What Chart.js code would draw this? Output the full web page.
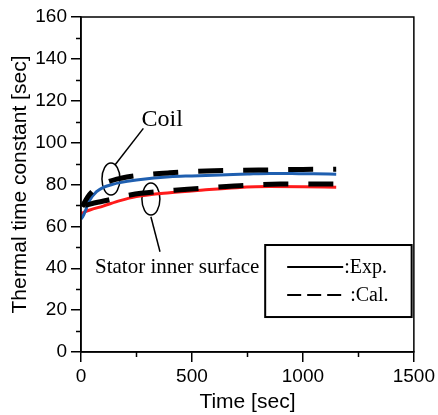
<!DOCTYPE html>
<html lang="en">
<head>
  <meta charset="UTF-8">
  <title>Thermal time constant</title>
  <script src="https://cdn.jsdelivr.net/npm/chart.js"></script>
  <style>
    html, body { margin: 0; padding: 0; background: #fff; }
    #wrap { width: 438px; height: 415px; }
  </style>
</head>
<body>
<div id="wrap"><canvas id="tauChart"></canvas></div>
<script>
  // time axis [sec] and thermal time constants [sec]
  const coilExpT = [0, 10, 20, 40, 70, 100, 140, 176, 250, 400, 500, 626, 750, 851, 950, 1050, 1150];
  const coilExp = [63.5, 65, 67.5, 72.6, 76.6, 78.6, 80, 80.9, 82.1, 83.7, 84.1, 84.5, 85, 85.3, 85.2, 85.1, 84.9];

  const statorExpT = [0, 20, 40, 100, 176, 250, 400, 551, 701, 851, 1000, 1150];
  const statorExp = [66, 67, 67.8, 69.7, 72.3, 74.2, 76.1, 77.4, 78.5, 79, 78.9, 78.7];

  const coilCalT = [5, 30, 50, 100, 180, 300, 400, 600, 800, 1000, 1150];
  const coilCal = [69.4, 74, 76.6, 80.3, 83, 84.8, 85.6, 86.6, 86.9, 87.2, 87.3];

  const statorCalT = [18, 75, 131, 200, 270, 480, 690, 900, 1150];
  const statorCal = [70, 71.5, 72.8, 74.5, 75.8, 77.7, 79.3, 80.2, 80.2];

  const xTicks = [0, 500, 1000, 1500];
  const xMinor = [250, 750, 1250];
  const yMinor = [10, 30, 50, 70, 90, 110, 130, 150];

  function pts(t, v) {
    return t.map((x, i) => ({ x: x, y: v[i] }));
  }

  // frame, minor ticks
  const framePlugin = {
    id: 'frame',
    afterDraw(chart) {
      const ctx = chart.ctx;
      const a = chart.chartArea;
      const xs = chart.scales.x, ys = chart.scales.y;
      ctx.save();
      ctx.strokeStyle = '#000';
      ctx.lineWidth = 1.5;
      ctx.strokeRect(a.left, a.top, a.right - a.left, a.bottom - a.top);
      ctx.beginPath();
      yMinor.forEach(v => {
        const p = Math.round(ys.getPixelForValue(v)) + 0.5;
        ctx.moveTo(a.left - 5, p);
        ctx.lineTo(a.left, p);
      });
      xMinor.forEach(v => {
        const p = Math.round(xs.getPixelForValue(v)) + 0.5;
        ctx.moveTo(p, a.bottom);
        ctx.lineTo(p, a.bottom + 5);
      });
      ctx.stroke();
      ctx.restore();
    }
  };

  // ellipses, leaders, labels and the boxed legend
  const notePlugin = {
    id: 'notes',
    beforeDatasetsDraw(chart) {
      const ctx = chart.ctx;
      const xs = chart.scales.x, ys = chart.scales.y;
      const X = v => xs.getPixelForValue(v);
      const Y = v => ys.getPixelForValue(v);
      ctx.save();
      ctx.strokeStyle = '#000';
      ctx.lineWidth = 1.5;

      // coil
      ctx.beginPath();
      ctx.ellipse(X(135), Y(82.6), 9, 16, 0, 0, Math.PI * 2);
      ctx.stroke();
      ctx.beginPath();
      ctx.moveTo(X(153), Y(89.3));
      ctx.lineTo(X(281), Y(106.8));
      ctx.stroke();

      // stator
      ctx.beginPath();
      ctx.ellipse(X(315), Y(73.1), 9, 16, 0, 0, Math.PI * 2);
      ctx.stroke();
      ctx.beginPath();
      ctx.moveTo(X(315), Y(64.6));
      ctx.lineTo(X(356), Y(47.9));
      ctx.stroke();
      ctx.restore();
    },
    afterDraw(chart) {
      const ctx = chart.ctx;
      const xs = chart.scales.x, ys = chart.scales.y;
      const X = v => xs.getPixelForValue(v);
      const Y = v => ys.getPixelForValue(v);
      ctx.save();
      ctx.fillStyle = '#000';
      ctx.textBaseline = 'alphabetic';
      ctx.textAlign = 'left';
      ctx.font = '24px "Liberation Serif"';
      ctx.fillText('Coil', X(273), Y(107.9));
      ctx.font = '21px "Liberation Serif"';
      ctx.fillText('Stator inner surface', X(63), Y(37.7));

      // legend box
      const bx1 = X(830), bx2 = X(1490), by1 = Y(51.1), by2 = Y(16.7);
      ctx.fillStyle = '#fff';
      ctx.fillRect(bx1, by1, bx2 - bx1, by2 - by1);
      ctx.strokeStyle = '#000';
      ctx.lineWidth = 2;
      ctx.strokeRect(bx1, by1, bx2 - bx1, by2 - by1);
      ctx.beginPath();
      ctx.moveTo(bx1 + 22, by1 + 22);
      ctx.lineTo(bx1 + 78, by1 + 22);
      ctx.stroke();
      ctx.setLineDash([14, 6]);
      ctx.beginPath();
      ctx.moveTo(bx1 + 22, by1 + 50);
      ctx.lineTo(bx1 + 78, by1 + 50);
      ctx.stroke();
      ctx.setLineDash([]);
      ctx.fillStyle = '#000';
      ctx.font = '20px "Liberation Serif"';
      ctx.fillText(':Exp.', bx1 + 79, by1 + 28);
      ctx.fillText(':Cal.', bx1 + 85, by1 + 56);
      ctx.restore();
    }
  };

  new Chart(document.getElementById('tauChart'), {
    type: 'line',
    data: {
      datasets: [{
        label: 'Coil Cal.',
        data: pts(coilCalT, coilCal),
        borderColor: '#000',
        borderWidth: 5,
        borderDash: [25, 20],
        borderDashOffset: 7,
        order: 0
      }, {
        label: 'Stator Cal.',
        data: pts(statorCalT, statorCal),
        borderColor: '#000',
        borderWidth: 5,
        borderDash: [25, 20],
        order: 0
      }, {
        label: 'Coil Exp.',
        data: pts(coilExpT, coilExp),
        borderColor: '#1f5fb0',
        borderWidth: 3,
        order: 1
      }, {
        label: 'Stator Exp.',
        data: pts(statorExpT, statorExp),
        borderColor: '#ff1a1a',
        borderWidth: 3,
        order: 1
      }]
    },
    options: {
      responsive: true,
      maintainAspectRatio: false,
      animation: false,
      layout: { padding: { left: 0, right: 24, top: 17, bottom: 0 } },
      elements: {
        point: { radius: 0 },
        line: { cubicInterpolationMode: 'monotone', fill: false }
      },
      plugins: {
        legend: { display: false },
        tooltip: { enabled: false }
      },
      scales: {
        x: {
          type: 'linear',
          min: 0,
          max: 1500,
          afterBuildTicks: s => { s.ticks = xTicks.map(v => ({ value: v })); },
          afterFit: s => { s.height = 63; },
          border: { color: '#000', width: 1.5 },
          grid: { drawOnChartArea: false, drawTicks: true, tickLength: 10, color: '#000', lineWidth: 1.5 },
          ticks: {
            color: '#000', padding: 3, maxRotation: 0,
            callback: v => String(v),
            font: { family: 'Liberation Sans', size: 19 }
          },
          title: {
            display: true,
            text: 'Time [sec]',
            color: '#000',
            padding: { top: 0, bottom: 2 },
            font: { family: 'Liberation Sans', size: 21, lineHeight: 1 }
          }
        },
        y: {
          min: 0,
          max: 160,
          afterFit: s => { s.width = 81; },
          border: { color: '#000', width: 1.5 },
          grid: { drawOnChartArea: false, drawTicks: true, tickLength: 10, color: '#000', lineWidth: 1.5 },
          ticks: { stepSize: 20, color: '#000', padding: 4, font: { family: 'Liberation Sans', size: 19 } },
          title: {
            display: true,
            text: 'Thermal time constant [sec]',
            color: '#000',
            padding: { top: 8, bottom: 0 },
            font: { family: 'Liberation Sans', size: 21 }
          }
        }
      }
    },
    plugins: [framePlugin, notePlugin]
  });
</script>
</body>
</html>
